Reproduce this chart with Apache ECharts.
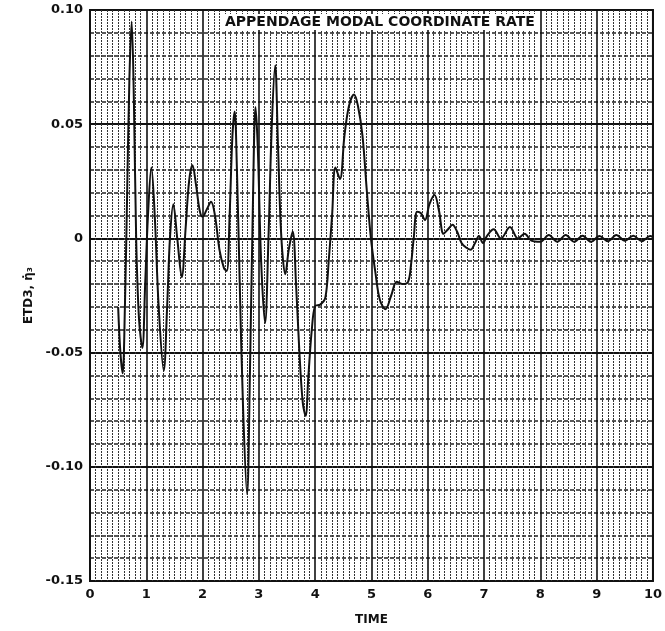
<!DOCTYPE html>
<html>
<head>
<meta charset="utf-8">
<script src="https://cdn.jsdelivr.net/npm/echarts@6/dist/echarts.min.js"></script>
<style>
  html, body { margin: 0; padding: 0; background: #fff; }
  #chart { width: 665px; height: 631px; }
</style>
</head>
<body>
<div id="chart"></div>
<script>
// ---- data ----
var titleText = 'APPENDAGE MODAL COORDINATE RATE';
var xName = 'TIME';
var yName = 'ETD3, \u03B7\u0307\u2083';
var xTicks = [0, 1, 2, 3, 4, 5, 6, 7, 8, 9, 10];
var yTicks = [-0.15, -0.10, -0.05, 0, 0.05, 0.10];

var time = [
  0.50, 0.54, 0.58, 0.62, 0.66, 0.70, 0.74, 0.78, 0.82, 0.87,
  0.93, 0.98, 1.03, 1.09, 1.15, 1.22, 1.31, 1.37, 1.42, 1.48,
  1.55, 1.63, 1.70, 1.76, 1.82, 1.88, 1.95, 2.00, 2.08, 2.15,
  2.22, 2.30, 2.38, 2.43, 2.48, 2.53, 2.57, 2.61, 2.66, 2.72,
  2.79, 2.84, 2.89, 2.94, 2.98, 3.04, 3.11, 3.17, 3.23, 3.29,
  3.34, 3.40, 3.47, 3.53, 3.60, 3.66, 3.72, 3.78, 3.83, 3.88,
  3.94, 4.00, 4.09, 4.18, 4.24, 4.30, 4.36, 4.44, 4.52, 4.60,
  4.69, 4.76, 4.84, 4.92, 4.99, 5.07, 5.15, 5.25, 5.35, 5.45,
  5.55, 5.65, 5.70, 5.75, 5.81, 5.88, 5.95, 6.03, 6.12, 6.20,
  6.28, 6.36, 6.44, 6.52, 6.60, 6.68, 6.76, 6.84, 6.91, 6.98,
  7.05, 7.17, 7.30, 7.46, 7.60, 7.72, 7.84, 8.00, 8.15, 8.30,
  8.45, 8.60, 8.75, 8.90, 9.05, 9.20, 9.35, 9.50, 9.65, 9.80,
  9.95, 10.00
];
var etd3 = [
  -0.030, -0.050, -0.059, -0.030, 0.020, 0.070, 0.095, 0.060, 0.000, -0.035,
  -0.048, -0.020, 0.010, 0.031, 0.010, -0.030, -0.058, -0.030, 0.000, 0.015,
  0.000, -0.017, 0.005, 0.025, 0.032, 0.024, 0.012, 0.0095, 0.013, 0.016,
  0.010, -0.005, -0.013, -0.0143, 0.010, 0.045, 0.0556, 0.030, -0.020, -0.075,
  -0.112, -0.060, 0.010, 0.0575, 0.040, -0.010, -0.037, 0.000, 0.050, 0.0758,
  0.040, 0.000, -0.0157, -0.005, 0.003, -0.020, -0.050, -0.072, -0.0777, -0.060,
  -0.040, -0.0296, -0.029, -0.026, -0.010, 0.010, 0.031, 0.026, 0.045, 0.058,
  0.063, 0.058, 0.045, 0.020, 0.000, -0.015, -0.027, -0.031, -0.025, -0.019,
  -0.020, -0.019, -0.012, 0.000, 0.0117, 0.011, 0.008, 0.015, 0.019, 0.012,
  0.002, 0.004, 0.006, 0.003, -0.002, -0.004, -0.005, -0.002, 0.001, -0.002,
  0.001, 0.004, 0.000, 0.005, 0.000, 0.002, -0.001, -0.0015, 0.0015, -0.0015,
  0.0015, -0.0015, 0.0012, -0.0015, 0.001, -0.0012, 0.0015, -0.001, 0.0012, -0.0012,
  0.001, 0.0005
];

// ---- chart ----
var seriesData = time.map(function (t, i) { return [t, etd3[i]]; });
var FONT = 'DejaVu Sans';
var yMin = yTicks[0], yMax = yTicks[yTicks.length - 1];
var xMin = xTicks[0], xMax = xTicks[xTicks.length - 1];

function isMajorY(v) {
  return Math.abs(v * 20 - Math.round(v * 20)) < 1e-6;
}

var chart = echarts.init(document.getElementById('chart'), null, { renderer: 'canvas' });
chart.setOption({
  backgroundColor: '#fff',
  animation: false,
  title: {
    text: titleText,
    left: 223,
    top: 14,
    padding: [1, 2],
    backgroundColor: '#fff',
    textStyle: { fontFamily: FONT, fontWeight: 'bold', fontSize: 14, color: '#111' }
  },
  grid: {
    left: 90, right: 1, top: 10, bottom: 49,
    show: true, borderColor: '#111', borderWidth: 2, backgroundColor: 'transparent'
  },
  xAxis: [{
    type: 'value', min: xMin, max: xMax, interval: 1,
    name: xName, nameLocation: 'middle', nameGap: 33,
    nameTextStyle: { fontFamily: FONT, fontWeight: 'bold', fontSize: 12, color: '#111' },
    axisLine: { show: false },
    axisTick: { show: false },
    axisLabel: { margin: 7, fontFamily: FONT, fontWeight: 'bold', fontSize: 13, color: '#111' },
    splitLine: { show: true, lineStyle: { color: '#111', width: 1.6 } },
    minorTick: { show: false, splitNumber: 10 },
    minorSplitLine: { show: true, lineStyle: { color: '#333', width: 1, type: [2, 1] } }
  }],
  yAxis: [{
    type: 'value', min: yMin, max: yMax, interval: 0.05,
    name: yName, nameLocation: 'middle', nameGap: 55, nameRotate: 90,
    nameTextStyle: { fontFamily: FONT, fontWeight: 'bold', fontSize: 12, color: '#111' },
    axisLine: { show: false },
    axisTick: { show: false },
    axisLabel: {
      margin: 7, fontFamily: FONT, fontWeight: 'bold', fontSize: 13, color: '#111',
      formatter: function (v) {
        if (!isMajorY(v)) return '';
        if (Math.abs(v) < 1e-9) return '0';
        return v.toFixed(2);
      }
    },
    splitLine: { show: true, lineStyle: { color: '#111', width: 2 } },
    minorTick: { show: false, splitNumber: 5 },
    minorSplitLine: { show: true, lineStyle: { color: '#222', width: 1.5, type: [4, 2] } }
  }],
  series: [{
    type: 'line',
    data: seriesData,
    smooth: 0.35,
    showSymbol: false,
    lineStyle: { color: '#111', width: 2 },
    z: 5
  }]
});
</script>
</body>
</html>
